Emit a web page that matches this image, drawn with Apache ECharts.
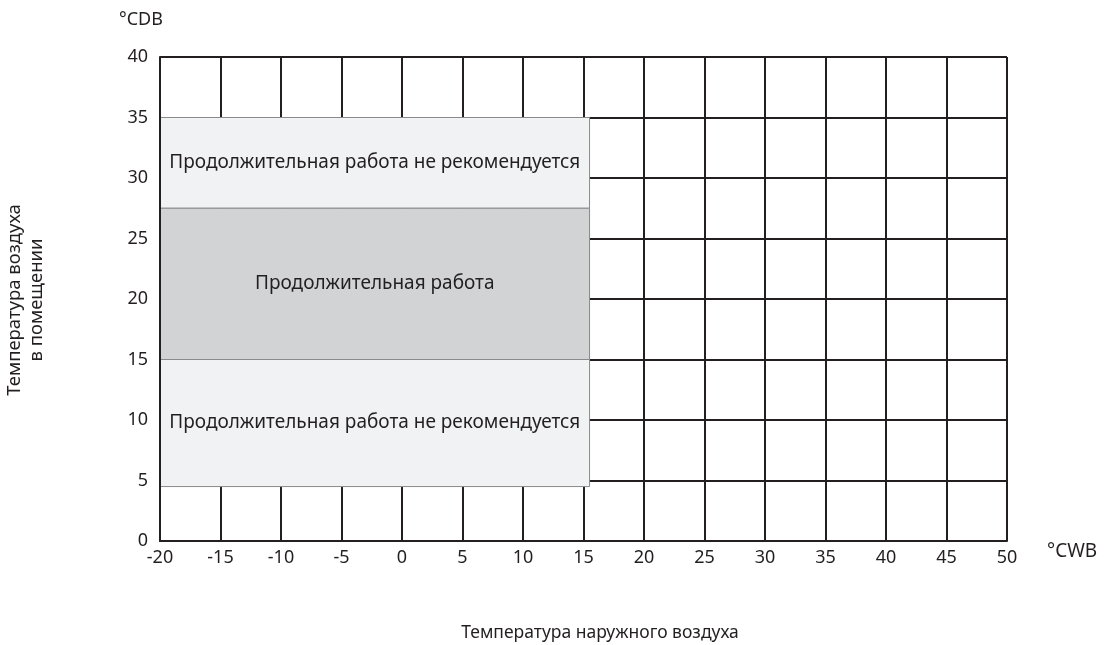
<!DOCTYPE html>
<head>
    <meta charset="utf-8">
    <title>Operating range</title>
    <style>
        html, body { width: 100%; height: 100%; margin: 0; background: #fff; }
        #main { width: 1105px; height: 645px; }
    </style>
</head>
<body>
<div id="main"></div>
<script src="https://cdn.jsdelivr.net/npm/echarts@6/dist/echarts.min.js"></script>
<script type="text/javascript">
  // outdoor wet-bulb range (x) and indoor dry-bulb range (y)
  var xRange = [-20, 50];
  var yRange = [0, 40];
  var tickStep = 5;

  // operating zones: [x from, x to, y from, y to]
  var zoneX0 = [-20, -20, -20];
  var zoneX1 = [15.5, 15.5, 15.5];
  var zoneY0 = [27.5, 15, 4.5];
  var zoneY1 = [35, 27.5, 15];
  var zoneLabels = [
    'Продолжительная работа не рекомендуется',
    'Продолжительная работа',
    'Продолжительная работа не рекомендуется'
  ];
  var zoneFills = ['#f1f2f4', '#d1d3d4', '#f1f2f4'];

  var FONT = 'Noto Sans';
  var INK = '#231f20';
  var myChart = echarts.init(document.getElementById('main'));

  var zones = [];
  for (var i = 0; i < zoneLabels.length; i++) {
    zones.push([zoneX0[i], zoneX1[i], zoneY0[i], zoneY1[i], i]);
  }

  function renderZone(params, api) {
    var p0 = api.coord([api.value(0), api.value(3)]);
    var p1 = api.coord([api.value(1), api.value(2)]);
    var idx = api.value(4);
    return {
      type: 'group',
      children: [{
        type: 'rect',
        shape: { x: p0[0], y: p0[1], width: p1[0] - p0[0], height: p1[1] - p0[1] },
        style: { fill: zoneFills[idx], stroke: '#8a8a8a', lineWidth: 1 }
      }, {
        type: 'text',
        x: (p0[0] + p1[0]) / 2,
        y: (p0[1] + p1[1]) / 2,
        style: {
          text: zoneLabels[idx],
          fill: INK,
          font: '19px "' + FONT + '"',
          align: 'center',
          verticalAlign: 'middle'
        }
      }]
    };
  }

  var option = {
    animation: false,
    textStyle: { fontFamily: FONT },
    grid: { left: 160, right: 98, top: 57, bottom: 104 },
    xAxis: {
      type: 'value',
      min: xRange[0],
      max: xRange[1],
      interval: tickStep,
      name: '°CWB',
      nameLocation: 'end',
      nameGap: 40,
      nameTextStyle: { color: INK, fontSize: 19, verticalAlign: 'top', padding: [1, 0, 0, 0] },
      axisLine: { show: true, lineStyle: { color: INK, width: 2 } },
      axisTick: { show: false },
      axisLabel: { color: INK, fontSize: 18, margin: 8 },
      splitLine: { show: true, lineStyle: { color: INK, width: 2 } }
    },
    yAxis: [{
      type: 'value',
      min: yRange[0],
      max: yRange[1],
      interval: tickStep,
      axisLine: { show: false },
      axisTick: { show: false },
      axisLabel: { color: INK, fontSize: 18, margin: 12 },
      splitLine: { show: true, lineStyle: { color: INK, width: 2 } }
    }, {
      // left border drawn above the zones
      type: 'value',
      position: 'left',
      z: 5,
      min: yRange[0],
      max: yRange[1],
      interval: tickStep,
      axisLine: { show: true, lineStyle: { color: INK, width: 2 } },
      axisTick: { show: false },
      axisLabel: { show: false },
      splitLine: { show: false }
    }],
    graphic: [{
      type: 'text',
      x: 119,
      y: 20,
      style: { text: '°CDB', fill: INK, font: '18px "' + FONT + '"', verticalAlign: 'middle' }
    }, {
      type: 'text',
      x: 600,
      y: 633,
      style: {
        text: 'Температура наружного воздуха', fill: INK, font: '17.5px "' + FONT + '"',
        align: 'center', verticalAlign: 'middle'
      }
    }, {
      type: 'text',
      x: 26,
      y: 300,
      rotation: Math.PI / 2,
      style: {
        text: 'Температура воздуха\nв помещении',
        fill: INK,
        font: '18.5px "' + FONT + '"',
        align: 'center',
        verticalAlign: 'middle',
        lineHeight: 22
      }
    }],
    series: [{
      type: 'custom',
      renderItem: renderZone,
      data: zones,
      z: 3
    }]
  };
  myChart.setOption(option);
</script>
</body>
